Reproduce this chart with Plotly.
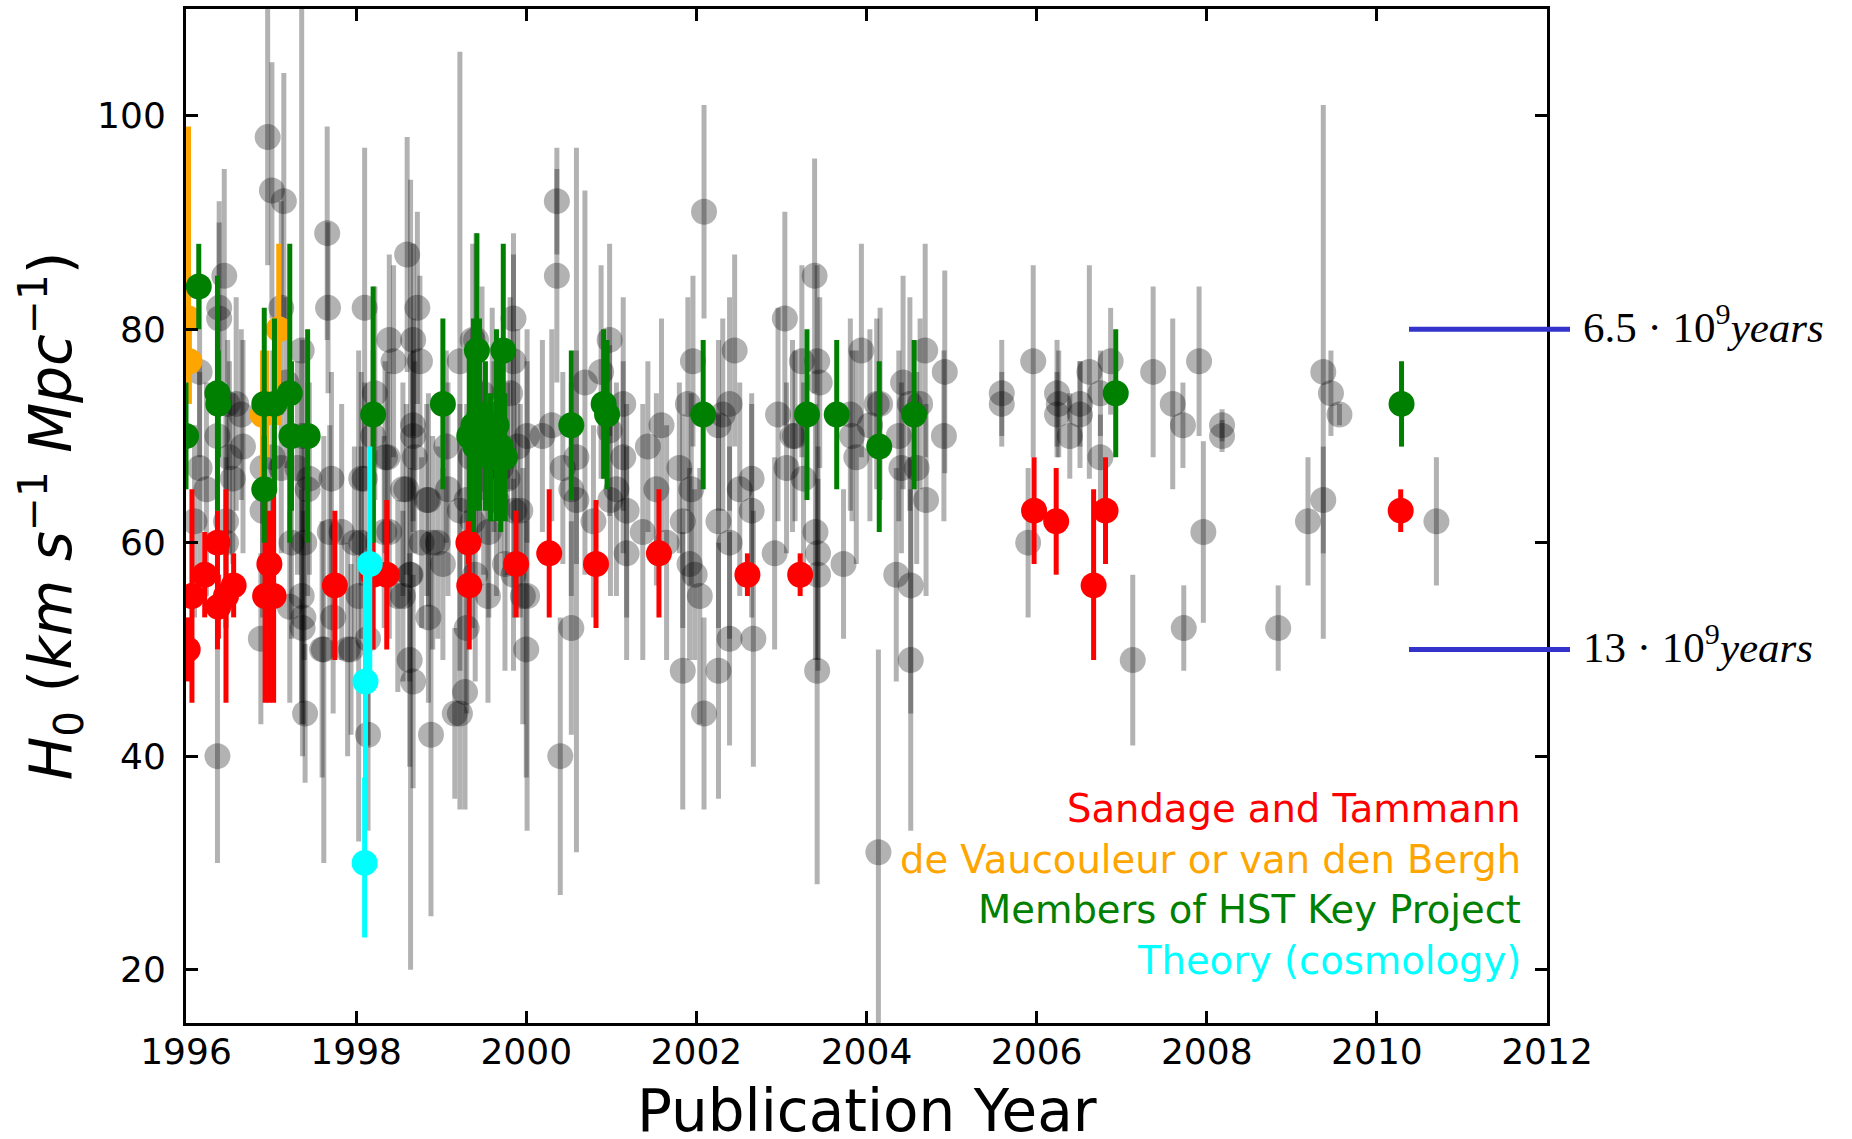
import plotly.graph_objects as go

X_RANGE = [1996, 2012]
Y_RANGE = [15, 110]

# ---------------- other authors (gray) ----------------
gray_a_year = [1996.10, 1996.16, 1996.16, 1996.24, 1996.37, 1996.37, 1996.39, 1996.39, 1996.45, 1996.47,
               1996.47, 1996.49, 1996.51, 1996.55, 1996.59, 1996.65, 1996.67, 1996.88, 1996.90, 1996.90,
               1996.96, 1997.01, 1997.02, 1997.12, 1997.12, 1997.15, 1997.18, 1997.22, 1997.24, 1997.31,
               1997.36, 1997.36, 1997.37, 1997.37, 1997.38, 1997.39, 1997.40, 1997.43, 1997.45, 1997.60,
               1997.62, 1997.66, 1997.67, 1997.69, 1997.71, 1997.73, 1997.83, 1997.90, 1997.94, 1997.98]
gray_a_h0 = [62, 76, 67, 65, 70, 40, 82, 81, 85, 62,
             60, 73, 68, 66, 73, 72, 69, 51, 63, 67,
             98, 93, 68, 82, 67, 92, 75, 54, 60, 67,
             78, 55, 70, 52, 53, 60, 44, 65, 66, 50,
             50, 89, 82, 61, 66, 53, 61, 50, 50, 60]
gray_a_err = [9, 8, 9, 10, 12, 10, 10, 9, 10, 10,
              8, 6, 9, 8, 10, 8, 10, 8, 10, 9,
              12, 12, 10, 10, 8, 12, 8, 9, 9, 10,
              35, 10, 9, 12, 10, 11, 6.5, 10, 9, 12,
              20, 10, 8, 10, 10, 9, 12, 10, 8, 9]

gray_b_year = [1998.03, 1998.06, 1998.06, 1998.10, 1998.10, 1998.14, 1998.14, 1998.20, 1998.22, 1998.33,
               1998.34, 1998.37, 1998.39, 1998.39, 1998.44, 1998.49, 1998.55, 1998.55, 1998.59, 1998.60,
               1998.63, 1998.63, 1998.64, 1998.67, 1998.67, 1998.67, 1998.67, 1998.69, 1998.72, 1998.75,
               1998.77, 1998.83, 1998.85, 1998.85, 1998.88, 1998.90, 1998.96, 1999.02, 1999.06, 1999.08,
               1999.16, 1999.22, 1999.22, 1999.22, 1999.28, 1999.30, 1999.30, 1999.35, 1999.37, 1999.37,
               1999.40, 1999.41, 1999.45, 1999.48, 1999.50, 1999.55, 1999.56, 1999.60, 1999.62, 1999.65,
               1999.70, 1999.75, 1999.78, 1999.81, 1999.85, 1999.85, 1999.85, 1999.86, 1999.90, 1999.93,
               1999.96, 2000.00, 2000.01, 2000.01, 2000.19, 2000.30, 2000.36, 2000.36, 2000.40, 2000.43,
               2000.53, 2000.53, 2000.59, 2000.59, 2000.69, 2000.79, 2000.88, 2000.98, 2000.98, 2000.99]
gray_b_h0 = [55, 66, 60, 82, 66, 42, 51, 70, 74, 61,
             68, 68, 79, 61, 77, 55, 65, 55, 65, 87,
             57, 49, 57, 79, 71, 70, 47, 68, 82, 77,
             60, 64, 53, 64, 42, 60, 60, 58, 69, 65,
             44, 77, 63, 44, 46, 52, 64, 68, 62, 79,
             57, 79, 70, 74, 66, 55, 61, 72, 69, 64,
             67, 58, 66, 74, 81, 77, 57, 63, 69, 63,
             55, 50, 70, 55, 70, 71, 92, 85, 40, 67,
             65, 52, 68, 64, 75, 62, 76, 79, 70.5, 64]
gray_b_err = [23, 10, 9, 15, 9, 9, 10, 8, 10, 9,
              9, 8, 8, 10, 9, 9, 10, 8, 8, 11,
              10, 10, 37, 9, 10, 8, 10, 9, 9, 8,
              8, 9, 8, 10, 17, 10, 9, 9, 9, 10,
              8, 29, 10, 9, 11, 8, 9, 9, 10, 9,
              10, 10, 10, 10, 9, 10, 8, 10, 8, 9,
              8, 10, 9, 9, 8, 10, 9, 10, 11, 10,
              12, 12, 10, 22, 9, 9, 5, 10, 13, 9,
              10, 10, 10, 33, 18, 9, 10, 9, 8, 9]

gray_c_year = [2001.06, 2001.14, 2001.14, 2001.18, 2001.18, 2001.37, 2001.43, 2001.53, 2001.59, 2001.65,
               2001.80, 2001.84, 2001.84, 2001.90, 2001.92, 2001.94, 2001.96, 2001.98, 2002.04, 2002.09,
               2002.09, 2002.26, 2002.26, 2002.26, 2002.31, 2002.39, 2002.39, 2002.39, 2002.45, 2002.51,
               2002.65, 2002.65, 2002.67, 2002.92, 2002.96, 2003.04, 2003.06, 2003.13, 2003.16, 2003.24,
               2003.26, 2003.39, 2003.40, 2003.42, 2003.42, 2003.43, 2003.43, 2003.45, 2003.73, 2003.81,
               2003.83, 2003.88, 2003.94, 2004.04, 2004.12, 2004.14, 2004.16, 2004.35, 2004.38, 2004.41,
               2004.43, 2004.51, 2004.52, 2004.52, 2004.59, 2004.63, 2004.69, 2004.70, 2004.91, 2004.92,
               2005.59, 2005.59, 2005.90, 2005.96, 2006.24, 2006.24, 2006.26, 2006.39, 2006.51, 2006.51,
               2006.62, 2006.75, 2006.75, 2006.87, 2007.13, 2007.37, 2007.60, 2007.72, 2007.73, 2007.91,
               2007.96, 2008.18, 2008.18, 2008.84, 2009.19, 2009.37, 2009.37, 2009.46, 2009.56, 2010.70]
gray_c_h0 = [65, 73, 68, 63, 59, 61, 69, 65, 71, 60,
             67, 62, 48, 73, 58, 65, 77, 57, 55, 91,
             44, 71, 62, 48, 72, 73, 60, 51, 78, 65,
             66, 63, 51, 59, 72, 81, 67, 70, 70, 77,
             66, 85, 61, 77, 48, 59, 57, 75, 58, 72,
             70, 68, 78, 71, 73, 31, 73, 57, 70, 67,
             75, 73, 56, 49, 67, 73, 78, 64, 70, 76,
             74, 73, 60, 77, 74, 72, 73, 70, 72, 73,
             76, 74, 68, 77, 49, 76, 73, 71, 52, 77,
             61, 71, 70, 52, 62, 76, 64, 74, 72, 62]
gray_c_err = [10, 10, 9, 10, 10, 12, 8, 9, 10, 11,
              8, 10, 13, 10, 9, 9, 8, 8, 12, 10,
              9, 8, 10, 12, 9, 10, 9, 10, 9, 10,
              8, 10, 12, 9, 10, 10, 8, 9, 8, 9,
              9, 11, 12, 9, 20, 10, 9, 8, 7, 9,
              8, 10, 10, 9, 8, 19, 9, 10, 8, 8,
              10, 10, 12, 16, 9, 8, 10, 9, 8, 9.5,
              5, 3, 7, 9, 5, 4, 5, 4, 5, 4,
              10, 4, 4, 5, 8, 8, 8, 4, 4, 7,
              8.5, 1.5, 1.5, 4, 6, 25, 5, 4, 1, 6]

# ---------------- Sandage and Tammann (red) ----------------
red_year = [1996.02, 1996.07, 1996.22, 1996.37, 1996.38, 1996.47, 1996.56, 1996.93, 1996.98, 1997.03,
            1997.75, 1998.20, 1998.36, 1999.32, 1999.33, 1999.88, 2000.27, 2000.82, 2001.56, 2002.60,
            2003.22, 2005.97, 2006.23, 2006.67, 2006.81, 2010.28]
red_h0 = [50, 55, 57, 60, 54, 55, 56, 55, 58, 55,
          56, 57, 57, 60, 56, 58, 59, 58, 59, 57,
          57, 63, 62, 56, 63, 63]
red_err_up = [3, 10, 4, 3, 3, 10, 3, 10, 5, 10,
              7, 7, 7, 2, 6, 5, 6, 6, 6, 2,
              2, 5, 5, 9, 5, 2]
red_err_down = [3, 10, 4, 10, 3, 10, 3, 10, 13, 10,
                7, 7, 7, 2, 6, 5, 6, 6, 6, 2,
                2, 5, 5, 7, 5, 2]

# ---------------- de Vaucouleurs / van den Bergh (orange) ----------------
orange_year = [1996.03, 1996.04, 1996.90, 1996.95, 1997.09]
orange_h0 = [81, 77, 72, 73, 80]
orange_err_up = [18, 4, 6, 5, 8]
orange_err_down = [6, 4, 6, 5, 9]

# ---------------- HST Key Project (green) ----------------
green_year = [1996.00, 1996.15, 1996.37, 1996.38, 1996.92, 1996.92, 1997.04, 1997.22, 1997.24, 1997.43,
              1998.20, 1999.02, 1999.33, 1999.38, 1999.40, 1999.42, 1999.45, 1999.52, 1999.58, 1999.65,
              1999.70, 1999.73, 1999.75, 2000.53, 2000.91, 2000.95, 2002.08, 2003.30, 2003.65, 2004.15,
              2004.56, 2006.93, 2010.29]
green_h0 = [70, 84, 74, 73, 65, 73, 73, 74, 70, 70,
            72, 73, 70, 71, 69, 78, 72, 70, 68, 71,
            69, 78, 68, 71, 73, 72, 72, 72, 72, 69,
            72, 74, 73]
green_err = [5, 4, 11, 5, 5, 9, 8, 14, 7, 10,
             12, 8, 8, 10, 6, 11, 9, 7, 6, 9,
             8, 10, 6, 7, 7, 7, 7, 8, 7, 8,
             7, 6, 4]

# ---------------- Theory (cyan) ----------------
cyan_year = [1998.16, 1998.11, 1998.10]
cyan_h0 = [58, 47, 30]
cyan_err_up = [11, 10, 8]
cyan_err_down = [11, 10, 7]

# ---------------- legend texts / age lines ----------------
legend_labels = ["Sandage and Tammann", "de Vaucouleur or van den Bergh",
                 "Members of HST Key Project", "Theory (cosmology)"]
legend_colors = ["#ff0000", "#ffa500", "#008000", "#00ffff"]
age_h0 = [80, 50]
age_labels = ["6.5 · 10<sup>9</sup><i>years</i>", "13 · 10<sup>9</sup><i>years</i>"]
x_title = "Publication Year"

GRAY = "rgba(0,0,0,0.3)"
MS = 26
TH = 5

fig = go.Figure()


def add(x, y, up, down, color):
    fig.add_trace(go.Scatter(
        x=x, y=y, mode="markers",
        marker=dict(size=MS, color=color, line=dict(width=0)),
        error_y=dict(type="data", array=up, arrayminus=down, symmetric=False,
                     thickness=TH, width=0, color=color),
        hoverinfo="skip", showlegend=False))


gray_year = gray_a_year + gray_b_year + gray_c_year
gray_h0 = gray_a_h0 + gray_b_h0 + gray_c_h0
gray_err = gray_a_err + gray_b_err + gray_c_err
add(gray_year, gray_h0, gray_err, gray_err, GRAY)
add(red_year, red_h0, red_err_up, red_err_down, legend_colors[0])
add(orange_year, orange_h0, orange_err_up, orange_err_down, legend_colors[1])
add(green_year, green_h0, green_err, green_err, legend_colors[2])
add(cyan_year, cyan_h0, cyan_err_up, cyan_err_down, legend_colors[3])

ML, MR, MT, MB = 186, 305, 9, 116
W, H = 1852, 1139
plot_w = W - ML - MR
plot_h = H - MT - MB


def px_to_paper_x(px):
    return (px - ML) / plot_w


def px_to_paper_y(py):
    return 1 - (py - MT) / plot_h


shapes = []
annotations = []
for v, lab in zip(age_h0, age_labels):
    yp = (v - Y_RANGE[0]) / (Y_RANGE[1] - Y_RANGE[0])
    shapes.append(dict(type="line", xref="paper", yref="paper",
                       x0=px_to_paper_x(1409), x1=px_to_paper_x(1570), y0=yp, y1=yp,
                       line=dict(color="#3333cc", width=5)))
    annotations.append(dict(xref="paper", yref="y", x=px_to_paper_x(1581), y=v,
                            xanchor="left", yanchor="middle", yshift=5, text=lab, showarrow=False,
                            font=dict(family="Liberation Serif", size=43, color="black")))

leg_y = [0.212, 0.1617, 0.1124, 0.0621]
for lab, col, yy in zip(legend_labels, legend_colors, leg_y):
    annotations.append(dict(xref="paper", yref="paper", x=px_to_paper_x(1523), y=yy,
                            xanchor="right", yanchor="middle", text=lab, showarrow=False,
                            font=dict(family="DejaVu Sans", size=38.5, color=col)))

# x-axis title placed as an annotation so it can sit at the very bottom edge
annotations.append(dict(xref="paper", yref="paper", x=0.5, y=px_to_paper_y(1111),
                        xanchor="center", yanchor="middle", text=x_title, showarrow=False,
                        font=dict(family="DejaVu Sans", size=58, color="black")))

axis_common = dict(ticks="inside", ticklen=12, tickwidth=3, tickcolor="black",
                   showline=True, linewidth=3, linecolor="black", mirror="ticks",
                   showgrid=False, zeroline=False, automargin=False,
                   tickfont=dict(family="DejaVu Sans", size=36, color="black"))

fig.update_layout(
    width=W, height=H,
    margin=dict(l=ML, r=MR, t=MT, b=MB, pad=0),
    paper_bgcolor="white", plot_bgcolor="white",
    showlegend=False,
    shapes=shapes, annotations=annotations,
    xaxis=dict(range=X_RANGE, tick0=1996, dtick=2, ticklabelstandoff=-5,
               **axis_common),
    yaxis=dict(range=Y_RANGE, tick0=20, dtick=20, ticklabelstandoff=10,
               title=dict(text="<i>H</i><sub>0</sub> (<i>km s</i><sup>−1</sup> <i>Mpc</i><sup>−1</sup>)",
                          standoff=7,
                          font=dict(family="DejaVu Sans", size=58, color="black")),
               **axis_common),
)

fig.write_html("out.html")
